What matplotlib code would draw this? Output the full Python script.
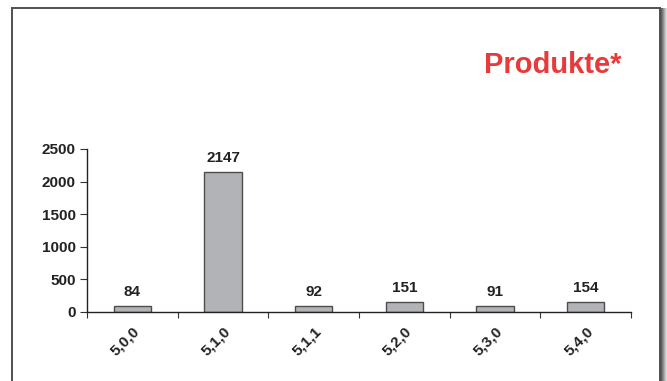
import numpy as np
import matplotlib.pyplot as plt
from matplotlib.patches import Rectangle

categories = ['5,0,0', '5,1,0', '5,1,1', '5,2,0', '5,3,0', '5,4,0']
counts = [84, 2147, 92, 151, 91, 154]
yticks = [0, 500, 1000, 1500, 2000, 2500]

plt.rcParams['font.family'] = ['Liberation Sans', 'DejaVu Sans']

W, H = 667, 381
fig = plt.figure(figsize=(W / 100, H / 100), dpi=100)

# panel frame with a soft shadow on the right side
shade = ['#4a4a4a', '#606060', '#787878', '#929292', '#adadad', '#c6c6c6', '#dedede']
for i, c in enumerate(shade):
    fig.patches.append(Rectangle(((660 + i) / W, -0.05), 1 / W, (H - 8) / H + 0.05,
                                 transform=fig.transFigure, color=c, lw=0, zorder=0))
fig.patches.append(Rectangle((11.5 / W, -0.05), (659.5 - 11.5) / W, (H - 8) / H + 0.05,
                             transform=fig.transFigure, facecolor='white',
                             edgecolor='#505050', lw=1.4, zorder=1))

ax = fig.add_axes([87 / W, 1 - 311.7 / H, (631 - 87) / W, (311.7 - 149) / H])
ax.set_zorder(2)
ax.patch.set_alpha(0)

x = np.arange(len(categories))
ax.bar(x, counts, width=0.41, color='#b2b3b7', edgecolor='#4d4d4d', linewidth=1.0)
for xi, v in zip(x, counts):
    ax.text(xi, v + 110, str(v), ha='center', va='bottom', fontsize=11, fontweight='bold',
            color='#222222')

ax.set_xlim(-0.5, len(categories) - 0.5)
ax.set_ylim(0, 2500)
ax.set_yticks(yticks)
ax.set_yticklabels([str(t) for t in yticks], fontsize=11, fontweight='bold', color='#222222')

# boundary ticks on the x axis, labels centred under each bar
ax.set_xticks(np.arange(-0.5, len(categories)), labels=[''] * (len(categories) + 1))
ax.set_xticks(x, minor=True)
ax.set_xticklabels(categories, minor=True, rotation=45, ha='right', rotation_mode='anchor',
                   fontsize=11, fontweight='bold', color='#222222')
ax.tick_params(axis='x', which='major', direction='out', length=4, width=0.8, color='#333333')
ax.tick_params(axis='x', which='minor', length=0, pad=9)
ax.tick_params(axis='y', direction='out', length=5, width=0.8, color='#333333', pad=3)

for s in ['top', 'right']:
    ax.spines[s].set_visible(False)
for s in ['left', 'bottom']:
    ax.spines[s].set_color('#222222')
    ax.spines[s].set_linewidth(1.0)

fig.text(622 / W, 1 - 73 / H, 'Produkte*', ha='right', va='baseline', fontsize=21,
         fontweight='bold', color='#e8393b', zorder=3)

fig.savefig('out.png', dpi=100)
